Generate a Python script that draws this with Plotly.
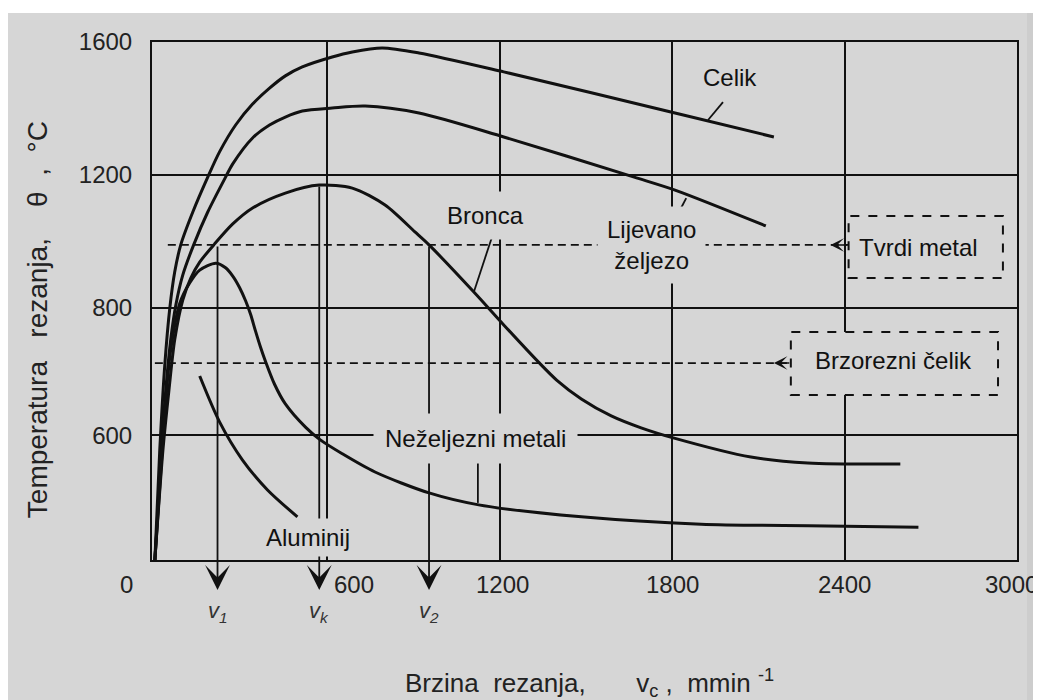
import plotly.graph_objects as go

# ---------------- data (axis units) ----------------
celik_x = [0, 17, 35, 52, 69, 90, 132, 184, 225, 281, 340, 399, 454, 513, 617, 687, 791, 919, 1214, 1810, 2154]
celik_y = [40, 371, 633, 799, 907, 989, 1088, 1193, 1269, 1350, 1413, 1461, 1498, 1525, 1555, 1570, 1582, 1567, 1510, 1386, 1314]

lijev_x = [0, 21, 38, 55, 73, 97, 135, 184, 246, 271, 340, 399, 454, 513, 617, 732, 919, 1214, 1668, 1810, 2126]
lijev_y = [40, 341, 552, 703, 808, 898, 989, 1088, 1193, 1233, 1311, 1350, 1374, 1392, 1401, 1407, 1386, 1314, 1193, 1154, 1046]

bronca_x = [0, 28, 49, 69, 97, 125, 156, 208, 271, 340, 454, 572, 687, 801, 905, 954, 1110, 1214, 1335, 1398, 1484, 1588, 1692, 1807, 2074, 2272, 2594]
bronca_y = [40, 371, 552, 703, 823, 889, 937, 992, 1052, 1100, 1145, 1169, 1160, 1109, 1028, 989, 847, 748, 636, 582, 525, 474, 438, 407, 350, 332, 329]

nezelj_x = [0, 21, 38, 55, 87, 121, 156, 212, 246, 271, 295, 316, 333, 350, 368, 385, 416, 454, 524, 572, 652, 766, 954, 1127, 1484, 1901, 2403, 2657]
nezelj_y = [40, 311, 522, 672, 814, 874, 913, 934, 920, 895, 860, 820, 780, 730, 680, 638, 570, 510, 440, 404, 360, 305, 242, 206, 170, 148, 142, 139]

alum_x = [156, 225, 305, 392, 496]
alum_y = [594, 456, 341, 251, 170]

# tool-material temperature limits
tvrdi_y = 989
brzo_y = 633
tvrdi_x = [45, 2414]
brzo_x = [0, 2213]
tvrdi_arrow_tip = 2351
brzo_arrow_tip = 2154

# characteristic speeds
v_names = ["1", "k", "2"]
v_x = [218, 572, 954]
v_top = [989, 1169, 989]
v_tip = -50

# axes
x_ticks = [0, 600, 1200, 1800, 2400, 3000]
x_ticktext = ["0", "600", "1200", "1800", "2400", "3000"]
y_tickvals = [415, 800, 1200, 1600]
y_ticktext = ["600", "800", "1200", "1600"]

# ---------------- styling ----------------
BG = "#d6d6d6"
INK = "#111111"
AXFONT = "Liberation Sans, Arial, sans-serif"
LBLFONT = "Liberation Sans, Arial, sans-serif"

fig = go.Figure()

line_style = dict(color=INK, width=3, shape="spline", smoothing=0.8)
for xs, ys in [(celik_x, celik_y), (lijev_x, lijev_y), (bronca_x, bronca_y),
               (nezelj_x, nezelj_y), (alum_x, alum_y)]:
    fig.add_trace(go.Scatter(x=xs, y=ys, mode="lines", line=line_style,
                             hoverinfo="skip", showlegend=False))

# dashed limit lines
for xs, yv in [(tvrdi_x, tvrdi_y), (brzo_x, brzo_y)]:
    fig.add_trace(go.Scatter(x=xs, y=[yv, yv], mode="lines",
                             line=dict(color=INK, width=1.8, dash="8px,5px"),
                             hoverinfo="skip", showlegend=False))

shapes = []
# dashed boxes
shapes.append(dict(type="rect", xref="x", yref="y", x0=2414, x1=2951, y0=889, y1=1076,
                   line=dict(color=INK, width=2, dash="dash"), fillcolor=BG, layer="above"))
shapes.append(dict(type="rect", xref="x", yref="y", x0=2213, x1=2934, y0=537, y1=727,
                   line=dict(color=INK, width=2, dash="dash"), fillcolor=BG, layer="above"))
# leader lines
for (xa, ya, xb, yb) in [(1977, 1419, 1925, 1365), (1849, 1130, 1831, 1100),
                         (1172, 1010, 1110, 847), (1124, 332, 1124, 212)]:
    shapes.append(dict(type="line", xref="x", yref="y", x0=xa, y0=ya, x1=xb, y1=yb,
                       line=dict(color=INK, width=1.8), layer="above"))
# page edge strips
shapes.append(dict(type="rect", xref="paper", yref="paper", x0=-0.2, x1=1.1, y0=1.056, y1=1.1,
                   line=dict(width=0), fillcolor="white", layer="below"))
shapes.append(dict(type="rect", xref="paper", yref="paper", x0=1.0116, x1=1.1, y0=-0.3, y1=1.056,
                   line=dict(width=0), fillcolor="#cdcdcd", layer="below"))

annotations = []
# vertical arrows
for vx, vt in zip(v_x, v_top):
    annotations.append(dict(x=vx, y=v_tip, xref="x", yref="y", ax=vx, ay=vt,
                            axref="x", ayref="y", text="", showarrow=True,
                            arrowhead=3, arrowsize=2.3, arrowwidth=1.8, arrowcolor=INK))
# horizontal arrows
annotations.append(dict(x=tvrdi_arrow_tip, y=tvrdi_y, ax=2414, ay=tvrdi_y, xref="x", yref="y",
                        axref="x", ayref="y", text="", showarrow=True,
                        arrowhead=3, arrowsize=1.5, arrowwidth=1.5, arrowcolor=INK))
annotations.append(dict(x=brzo_arrow_tip, y=brzo_y, ax=2213, ay=brzo_y, xref="x", yref="y",
                        axref="x", ayref="y", text="", showarrow=True,
                        arrowhead=3, arrowsize=1.5, arrowwidth=1.5, arrowcolor=INK))

# v labels
for n, vx in zip(v_names, v_x):
    annotations.append(dict(x=vx, y=0, xref="x", yref="paper", yshift=-68,
                            text="<i>v<sub>%s</sub></i>" % n, showarrow=False,
                            font=dict(family=LBLFONT, size=22, color="#333333")))

# curve labels (background hides grid lines behind them)
lbl_font = dict(family=LBLFONT, size=24, color=INK)
curve_labels = [
    ("Celik", 2000, 1492, 0),
    ("Lijevano<br>željezo", 1727, 989, 9),
    ("Bronca", 1151, 1079, 10),
    ("Neželjezni metali", 1117, 407, 11),
    ("Aluminij", 534, 109, 5),
    ("Tvrdi metal", 2657, 980, 0),
    ("Brzorezni čelik", 2570, 642, 0),
]
for txt, lx, ly, pad in curve_labels:
    annotations.append(dict(x=lx, y=ly, xref="x", yref="y", text=txt, showarrow=False,
                            font=lbl_font, bgcolor=BG if pad else None, borderpad=pad))

# x tick labels
x_shift = [-28, 27, 3, 0, 0, -6]
for t, tt, sh in zip(x_ticks, x_ticktext, x_shift):
    annotations.append(dict(x=t, y=0, xref="x", yref="paper", yshift=-24, xshift=sh,
                            yanchor="middle", text=tt, showarrow=False,
                            font=dict(family=AXFONT, size=24, color="#222222")))

# axis titles
annotations.append(dict(x=0.506, y=0, xref="paper", yref="paper", yshift=-123,
                        yanchor="middle", showarrow=False,
                        text="Brzina\u00a0 rezanja,\u00a0\u00a0\u00a0\u00a0\u00a0\u00a0 v<sub>c</sub> ,\u00a0 mmin <sup>-1</sup>",
                        font=dict(family=LBLFONT, size=26, color="#222222")))
annotations.append(dict(x=0, y=0.463, xref="paper", yref="paper", xshift=-115,
                        xanchor="center", yanchor="middle", textangle=-90, showarrow=False,
                        text="Temperatura\u00a0\u00a0 rezanja,\u00a0\u00a0\u00a0 θ\u00a0 ,\u00a0 °C",
                        font=dict(family=LBLFONT, size=28, color="#222222")))

fig.update_layout(
    width=1033, height=692, autosize=False,
    margin=dict(l=144, r=24, t=34, b=140),
    paper_bgcolor=BG, plot_bgcolor=BG,
    shapes=shapes, annotations=annotations,
    xaxis=dict(range=[-10, 3000], tickvals=x_ticks[1:], showticklabels=False,
               showgrid=True, gridcolor=INK, gridwidth=1.6, zeroline=False,
               showline=True, linecolor=INK, linewidth=2, mirror=True, ticks=""),
    yaxis=dict(range=[40, 1600], tickvals=y_tickvals, ticktext=y_ticktext,
               showgrid=True, gridcolor=INK, gridwidth=1.6, zeroline=False,
               showline=True, linecolor=INK, linewidth=2, mirror=True, ticks="",
               ticklabelstandoff=13,
               tickfont=dict(family=AXFONT, size=24, color="#222222")),
    showlegend=False,
)

fig.write_html("out.html")
